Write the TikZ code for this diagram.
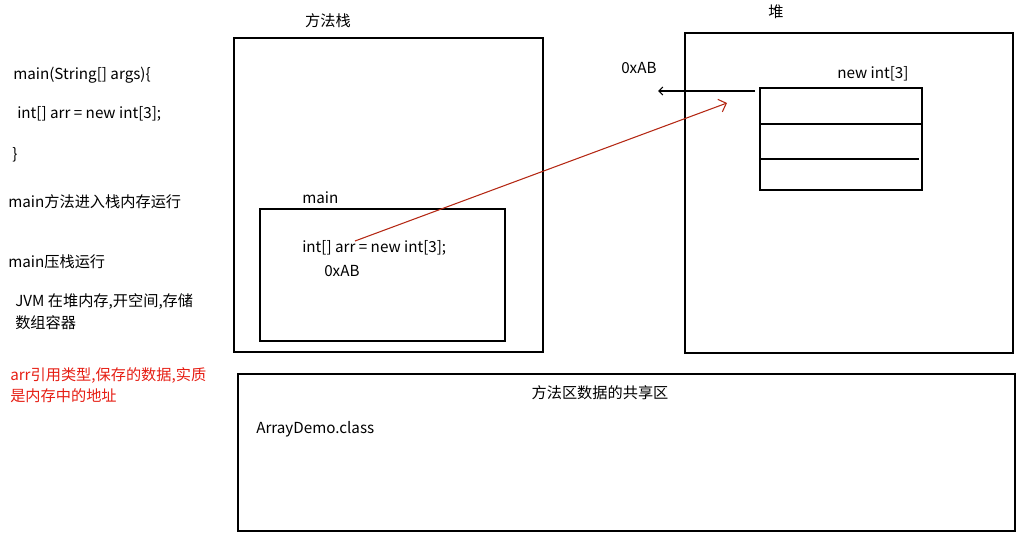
\documentclass[tikz,border=0pt]{standalone}
\usepackage{fontspec}
\setmainfont{Noto Sans CJK SC}
\usetikzlibrary{arrows.meta}
\definecolor{redtxt}{RGB}{230,30,20}
\definecolor{redline}{RGB}{180,40,20}
\tikzset{
  box/.style={draw=black, line width=0.8pt},
  txt/.style={anchor=west, inner sep=0pt, font=\fontsize{11.4}{13}\selectfont},
  ctxt/.style={anchor=center, inner sep=0pt, font=\fontsize{11.4}{13}\selectfont},
}
\begin{document}
\begin{tikzpicture}[x=0.75pt,y=-0.75pt]
\useasboundingbox (0,0) rectangle (1019,538);
% boxes
\draw[box] (234,38) rectangle (543,352);
\draw[box] (260,209) rectangle (505,341);
\draw[box] (685,33) rectangle (1013,353);
\draw[box] (760,88) rectangle (922,190);
\draw[box] (760,124) -- (923,124);
\draw[box] (760,159) -- (919,159);
\draw[box] (238,374) rectangle (1015,531);
% titles
\node[ctxt] (stackt) at (328,21) {方法栈};
\node[ctxt] (heapt) at (776,12) {堆};
\node[ctxt] (areat) at (600,393) {方法区数据的共享区};
\node[txt] (mainl) at (302,198) {main};
\node[txt] (code) at (302,248) {int[] arr = new int[3];};
\node[txt] (addr) at (324,271) {0xAB};
\node[txt] (newint) at (837,74) {new int[3]};
\node[txt] (addr2) at (621,68) {0xAB};
\node[txt] (cls) at (256,429) {ArrayDemo.class};
% left texts
\node[txt] (l1) at (13,75) {main(String[] args)\{};
\node[txt] (l2) at (17,114) {int[] arr = new int[3];};
\node[txt] (l3) at (12,155) {\}};
\node[txt] (l4) at (8,202) {main方法进入栈内存运行};
\node[txt] (l5) at (8,262) {main压栈运行};
\node[txt] (l6) at (15,302) {JVM 在堆内存,开空间,存储};
\node[txt] (l7) at (15,323) {数组容器};
\node[txt, text=redtxt] (l8) at (10,376) {arr引用类型,保存的数据,实质};
\node[txt, text=redtxt] (l9) at (10,396) {是内存中的地址};
% arrows
\coordinate (hs) at (755,91);
\coordinate (he) at (658,91);
\draw[line width=0.8pt, -{Straight Barb[length=3pt,width=6pt]}] (hs) -- (he);
\coordinate (rs) at (355,241);
\coordinate (re) at (727,103);
\draw[redline, line width=0.8pt, -{Straight Barb[length=5pt,width=10pt]}] (rs) -- (re);
\end{tikzpicture}
\end{document}
